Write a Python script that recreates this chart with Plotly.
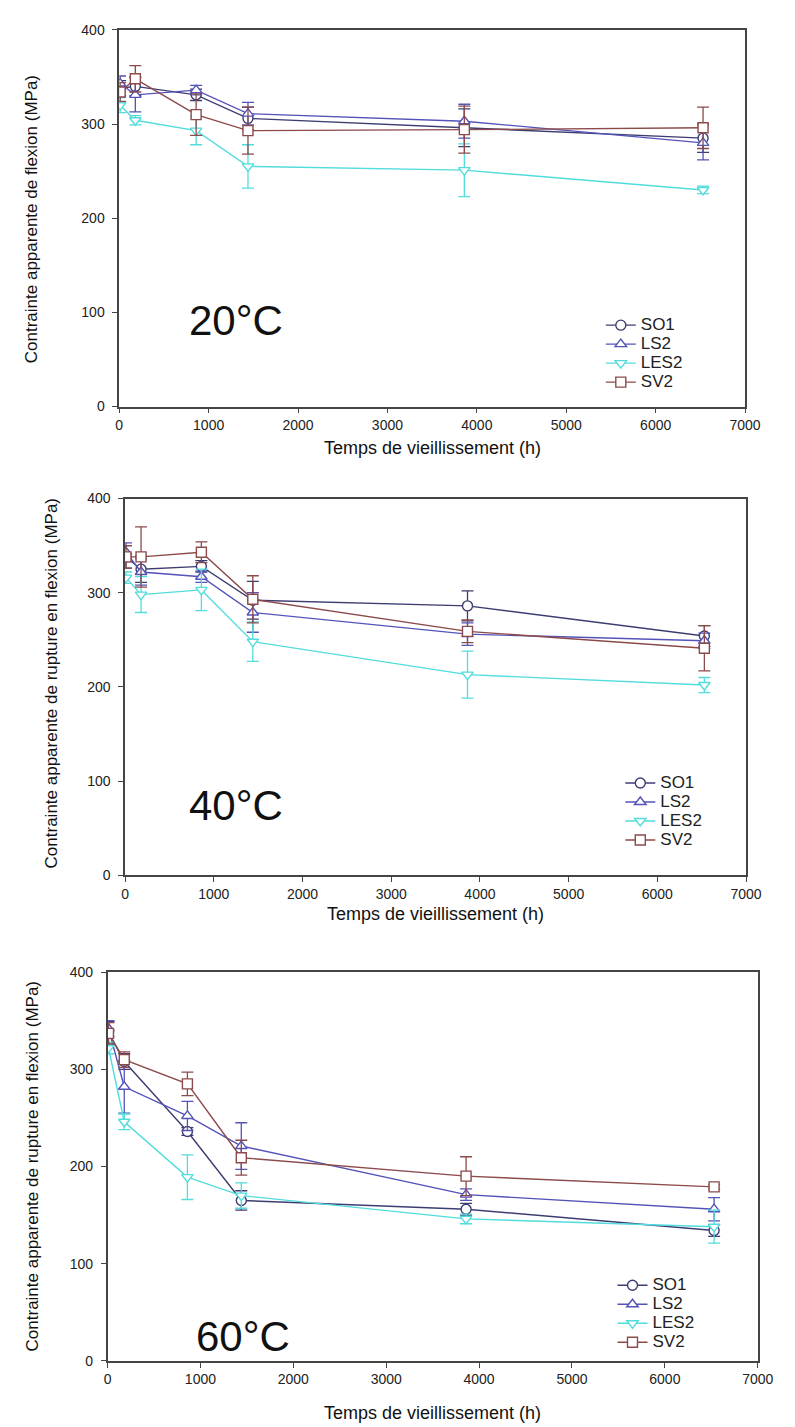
import plotly.graph_objects as go

# ---------------- data ----------------
series_names = ["SO1", "LS2", "LES2", "SV2"]
time_h = [10, 180, 860, 1440, 3860, 6530]

# 20 °C
so1_20 = [338, 340, 331, 306, 296, 285]
so1_20_err = [8, 10, 6, 12, 20, 15]
ls2_20 = [343, 331, 336, 311, 303, 280]
ls2_20_err = [8, 18, 5, 12, 18, 18]
les2_20 = [320, 304, 293, 255, 251, 230]
les2_20_err = [8, 5, 15, 23, 28, 4]
sv2_20 = [334, 348, 310, 293, 294, 296]
sv2_20_err = [10, 14, 22, 25, 25, 22]

# 40 °C
so1_40 = [338, 325, 328, 292, 286, 254]
so1_40_err = [12, 14, 6, 20, 16, 11]
ls2_40 = [343, 322, 317, 279, 256, 249]
ls2_40_err = [10, 14, 6, 21, 12, 8]
les2_40 = [316, 298, 303, 248, 213, 202]
les2_40_err = [6, 19, 22, 21, 25, 8]
sv2_40 = [338, 338, 343, 293, 259, 241]
sv2_40_err = [12, 32, 11, 25, 12, 24]

# 60 °C
so1_60 = [338, 308, 236, 165, 156, 134]
so1_60_err = [11, 8, 4, 10, 6, 6]
ls2_60 = [342, 282, 252, 221, 171, 156]
ls2_60_err = [8, 27, 15, 24, 6, 12]
les2_60 = [322, 246, 189, 170, 146, 138]
les2_60_err = [6, 8, 23, 13, 5, 17]
sv2_60 = [337, 310, 285, 209, 190, 179]
sv2_60_err = [11, 8, 12, 18, 20, 2]

x_ticks = [0, 1000, 2000, 3000, 4000, 5000, 6000, 7000]
y_ticks = [0, 100, 200, 300, 400]

panel_labels = ["20°C", "40°C", "60°C"]
y_titles = ["Contrainte apparente de flexion (MPa)",
            "Contrainte apparente de rupture en flexion (MPa)",
            "Contrainte apparente de rupture en flexion (MPa)"]
x_title = "Temps de vieillissement (h)"

# ---------------- styling ----------------
W, H = 795, 1427
FONT = "Liberation Sans, Arial, sans-serif"
colors = {"SO1": "#3d3d72", "LS2": "#5353b8", "LES2": "#52dcdc", "SV2": "#8c4a4a"}
symbols = {"SO1": "circle", "LS2": "triangle-up", "LES2": "triangle-down", "SV2": "square"}

# pixel boxes of the three plot areas: (left, right, top, bottom)
boxes = [(110, 752, 14, 395), (116, 753, 488, 869), (98, 765, 967, 1360)]
ytitle_pos = [(20, 205), (40, 675), (21, 1163)]
xtitle_y = [437, 908, 1413]
label_pos = [(230, 308), (230, 798), (237, 1335)]
legend_pos = [(604, 298), (624, 761), (616, 1269)]

panels = [
    [so1_20, ls2_20, les2_20, sv2_20],
    [so1_40, ls2_40, les2_40, sv2_40],
    [so1_60, ls2_60, les2_60, sv2_60],
]
panel_errs = [
    [so1_20_err, ls2_20_err, les2_20_err, sv2_20_err],
    [so1_40_err, ls2_40_err, les2_40_err, sv2_40_err],
    [so1_60_err, ls2_60_err, les2_60_err, sv2_60_err],
]

fig = go.Figure()
layout = dict(
    width=W, height=H, margin=dict(l=0, r=0, t=0, b=0),
    paper_bgcolor="white", plot_bgcolor="white",
    font=dict(family=FONT, size=14, color="#222222"),
    showlegend=True,
)
annotations = []

for p in range(3):
    l, r, t, b = boxes[p]
    suffix = "" if p == 0 else str(p + 1)
    xa, ya = "x" + suffix, "y" + suffix
    leg = "legend" + suffix
    for s, name in enumerate(series_names):
        fig.add_trace(go.Scatter(
            x=time_h, y=panels[p][s],
            name='<span style="font-size:17px">%s</span>' % name,
            mode="lines+markers",
            xaxis=xa, yaxis=ya, legend=leg,
            line=dict(color=colors[name], width=1.4),
            marker=dict(symbol=symbols[name], size=10, color="white",
                        line=dict(color=colors[name], width=1.4)),
            error_y=dict(type="data", array=panel_errs[p][s], visible=True,
                         color=colors[name], thickness=1.3, width=6),
        ))
    axis_common = dict(showline=True, linecolor="#444444", linewidth=1.5, mirror=True,
                       ticks="outside", ticklen=5, tickwidth=1.3, tickcolor="#444444",
                       showgrid=False, zeroline=False,
                       tickfont=dict(family=FONT, size=14, color="#222222"))
    layout["xaxis" + suffix] = dict(
        axis_common, domain=[l / W, r / W], range=[0, 7000], tickvals=x_ticks,
        anchor=ya)
    layout["yaxis" + suffix] = dict(
        axis_common, domain=[1 - b / H, 1 - t / H], range=[0, 400], tickvals=y_ticks,
        anchor=xa, ticklabelstandoff=5)
    lx, ly = legend_pos[p]
    layout[leg] = dict(x=lx / W, y=1 - ly / H, xanchor="left", yanchor="top",
                       bgcolor="rgba(0,0,0,0)", borderwidth=0,
                       font=dict(family=FONT, size=12, color="#222222"),
                       itemwidth=30)
    tx, ty = ytitle_pos[p]
    annotations.append(dict(text=y_titles[p], x=tx / W, y=1 - ty / H, xref="paper", yref="paper",
                            textangle=-90, showarrow=False, xanchor="center", yanchor="middle",
                            font=dict(family=FONT, size=17, color="#111111")))
    annotations.append(dict(text=x_title, x=((l + r) / 2) / W, y=1 - xtitle_y[p] / H,
                            xref="paper", yref="paper", showarrow=False,
                            xanchor="center", yanchor="middle",
                            font=dict(family=FONT, size=18, color="#111111")))
    px_, py_ = label_pos[p]
    annotations.append(dict(text=panel_labels[p], x=px_ / W, y=1 - py_ / H,
                            xref="paper", yref="paper", showarrow=False,
                            xanchor="center", yanchor="middle",
                            font=dict(family=FONT, size=42, color="#111111")))

layout["annotations"] = annotations
fig.update_layout(**layout)
fig.write_html("out.html")
